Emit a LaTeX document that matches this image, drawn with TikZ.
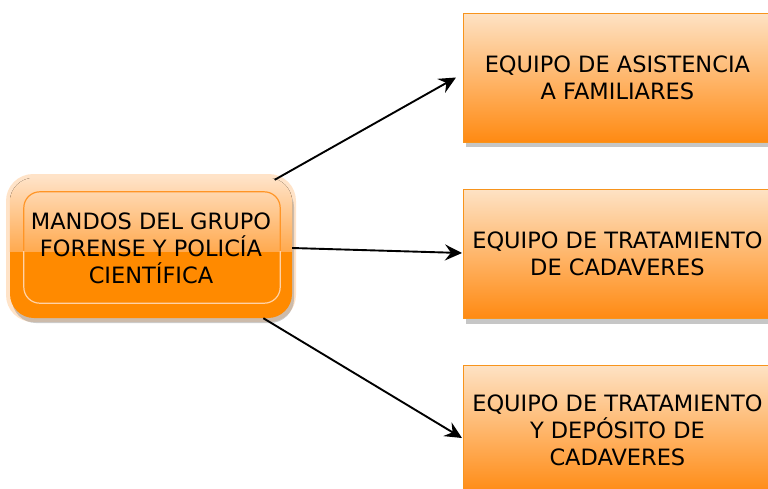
\documentclass[tikz,border=0pt]{standalone}
\usepackage{fontspec}
\setmainfont{DejaVu Sans}
\usetikzlibrary{arrows.meta,shadows}
\definecolor{orMain}{HTML}{FF8A00}
\definecolor{orGlossTop}{HTML}{FFE2C6}
\definecolor{orGlossMid}{HTML}{FFAA50}
\definecolor{orInnerLight}{HTML}{FFD2A6}
\definecolor{orInnerDark}{HTML}{FF9526}
\definecolor{orHalo}{HTML}{FFE3C8}
\definecolor{orTop}{HTML}{FEE2C4}
\definecolor{orBot}{HTML}{FF8A12}
\definecolor{orEdge}{HTML}{F7941D}
\begin{document}
\begin{tikzpicture}[x=1pt,y=-1pt,
  team/.style={draw=orEdge, line width=0.8pt, top color=orTop, bottom color=orBot,
    minimum width=308pt, minimum height=129pt, anchor=west, align=center,
    font=\fontsize{22.5}{27}\selectfont, inner sep=0pt,
    drop shadow={shadow xshift=3pt, shadow yshift=-5pt, fill=black!50, opacity=0.45}},
  leader/.style={rounded corners=24pt, minimum width=282pt, minimum height=140pt,
    fill=orMain, inner sep=0pt,
    drop shadow={shadow xshift=2pt, shadow yshift=-5pt, fill=black!50, opacity=0.4}},
  conn/.style={line width=1.9pt, -{Stealth[length=17pt,width=16pt,inset=6pt]}}
]
\useasboundingbox (0,0) rectangle (768,488);
% halo of the leading box
\fill[orHalo, rounded corners=27pt] (6,174) rectangle (296,322);
\node[leader] (m) at (151,248) {};
% gloss on the upper half, clipped to the rounded outline
\begin{scope}
  \clip[rounded corners=24pt] (m.north west) rectangle (m.south east);
  \fill[top color=orGlossTop, bottom color=orGlossMid]
    (m.north west) rectangle ([shift={(0,3)}]m.east);
\end{scope}
% inner border: darker over the gloss, lighter below it
\begin{scope}
  \clip (0,170) rectangle (300,251);
  \draw[orInnerDark, line width=1.2pt, rounded corners=16pt]
    ([shift={(14,14)}]m.north west) rectangle ([shift={(-12,-15)}]m.south east);
\end{scope}
\begin{scope}
  \clip (0,251) rectangle (300,330);
  \draw[orInnerLight, line width=1.2pt, rounded corners=16pt]
    ([shift={(14,14)}]m.north west) rectangle ([shift={(-12,-15)}]m.south east);
\end{scope}
\node[align=center, font=\fontsize{22.5}{27}\selectfont, inner sep=0pt] (mt) at (m.center)
  {MANDOS DEL GRUPO\\FORENSE Y POLICÍA\\CIENTÍFICA};
\node[team] (e1) at (463,77.5) {EQUIPO DE ASISTENCIA\\A FAMILIARES};
\node[team] (e2) at (463,254) {EQUIPO DE TRATAMIENTO\\DE CADAVERES};
\node[team] (e3) at (463,430) {EQUIPO DE TRATAMIENTO\\Y DEPÓSITO DE\\CADAVERES};
\draw[conn] ([shift={(-3,2)}]m.29.5) -- ([shift={(-7,0)}]e1.west);
\draw[conn] (m.east) -- ([shift={(-1,-1)}]e2.west);
\draw[conn] (m.-32) -- ([shift={(-1,8)}]e3.west);
\end{tikzpicture}
\end{document}
